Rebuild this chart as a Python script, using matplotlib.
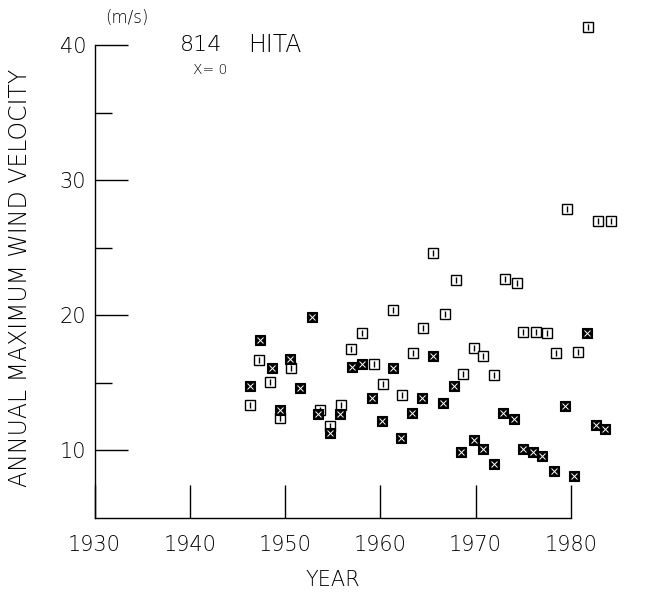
import matplotlib
matplotlib.use('Agg')

import matplotlib.pyplot as plt

# annual maximum wind velocity, station 814 HITA
star_years = [1946.3, 1947.4, 1948.6, 1949.5, 1950.5, 1951.6, 1952.8, 1953.5,
              1954.7, 1955.8, 1957.0, 1958.1, 1959.1, 1960.2, 1961.3, 1962.2,
              1963.3, 1964.4, 1965.5, 1966.6, 1967.7, 1968.5, 1969.8, 1970.8,
              1971.9, 1972.9, 1974.0, 1975.0, 1976.0, 1977.0, 1978.2, 1979.4,
              1980.3, 1981.7, 1982.6, 1983.6]
star_speed = [14.8, 18.2, 16.1, 13.0, 16.8, 14.6, 19.9, 12.7,
              11.3, 12.7, 16.2, 16.4, 13.9, 12.2, 16.1, 10.9,
              12.8, 13.9, 17.0, 13.5, 14.8, 9.9, 10.8, 10.1,
              9.0, 12.8, 12.3, 10.1, 9.9, 9.6, 8.5, 13.3,
              8.1, 18.7, 11.9, 11.6]

box_years = [1946.3, 1947.3, 1948.4, 1949.5, 1950.6, 1953.7, 1954.7, 1955.9,
             1956.9, 1958.1, 1959.3, 1960.3, 1961.3, 1962.3, 1963.4, 1964.5,
             1965.5, 1966.8, 1967.9, 1968.7, 1969.8, 1970.8, 1971.9, 1973.1,
             1974.3, 1975.0, 1976.3, 1977.5, 1978.4, 1979.6, 1980.7, 1981.8,
             1982.8, 1984.2]
box_speed = [13.4, 16.7, 15.1, 12.4, 16.1, 13.0, 11.8, 13.4,
             17.5, 18.7, 16.4, 14.9, 20.4, 14.1, 17.2, 19.1,
             24.6, 20.1, 22.6, 15.7, 17.6, 17.0, 15.6, 22.7,
             22.4, 18.8, 18.8, 18.7, 17.2, 27.9, 17.3, 41.4,
             27.0, 27.0]

x_ticks = [1930, 1940, 1950, 1960, 1970, 1980]
y_ticks = [10, 20, 30, 40]
y_minor = [15, 25, 35]

font = {'family': 'DejaVu Sans', 'weight': 'light'}

fig = plt.figure(figsize=(6.48, 5.94), dpi=100)
ax = fig.add_axes([0.146, 0.128, 0.854, 0.872])

# open squares with a mark inside
ax.plot(box_years, box_speed, ls='none', marker='s', ms=7.5,
        mfc='white', mec='black', mew=1.0)
ax.plot(box_years, box_speed, ls='none', marker='|', ms=4,
        mec='black', mew=1.0)
# filled symbols: black block with a faint cross cut out
ax.plot(star_years, star_speed, ls='none', marker='s', ms=7.5,
        mfc='black', mec='black', mew=0.8)
ax.plot(star_years, star_speed, ls='none', marker='x', ms=4,
        mec='white', mew=0.7)

ax.set_xlim(1930, 1988.1)
ax.set_ylim(5, 43.37)

for side in ['top', 'right']:
    ax.spines[side].set_visible(False)
ax.spines['bottom'].set_bounds(1930, 1980)
ax.spines['left'].set_bounds(5, 40)
ax.spines['bottom'].set_linewidth(1.0)
ax.spines['left'].set_linewidth(1.0)

ax.set_xticks(x_ticks)
ax.set_xticklabels([str(t) for t in x_ticks], fontsize=15, **font)
ax.set_yticks(y_ticks)
ax.set_yticklabels([str(t) for t in y_ticks], fontsize=15, **font)
ax.set_yticks(y_minor, minor=True)
ax.tick_params(axis='x', direction='in', length=24, width=1.0, pad=12)
ax.tick_params(axis='y', which='major', direction='in', length=24,
               width=1.0, pad=6)
ax.tick_params(axis='y', which='minor', direction='in', length=12, width=1.0)

fig.text(333 / 648, 1 - 580 / 594, 'YEAR', fontsize=15, ha='center',
         va='center', **font)
fig.text(20 / 648, 1 - 278 / 594, 'ANNUAL MAXIMUM WIND VELOCITY',
         fontsize=17, rotation=90, ha='center', va='center', **font)
fig.text(127 / 648, 1 - 18 / 594, '(m/s)', fontsize=12, ha='center',
         va='center', **font)
fig.text(180 / 648, 1 - 45 / 594, '814', fontsize=16, ha='left',
         va='center', **font)
fig.text(248 / 648, 1 - 45 / 594, 'HITA', fontsize=17, ha='left',
         va='center', **font)
fig.text(193 / 648, 1 - 70 / 594, 'X= 0', fontsize=10, ha='left',
         va='center', **font)

fig.savefig('out.png', dpi=100)
